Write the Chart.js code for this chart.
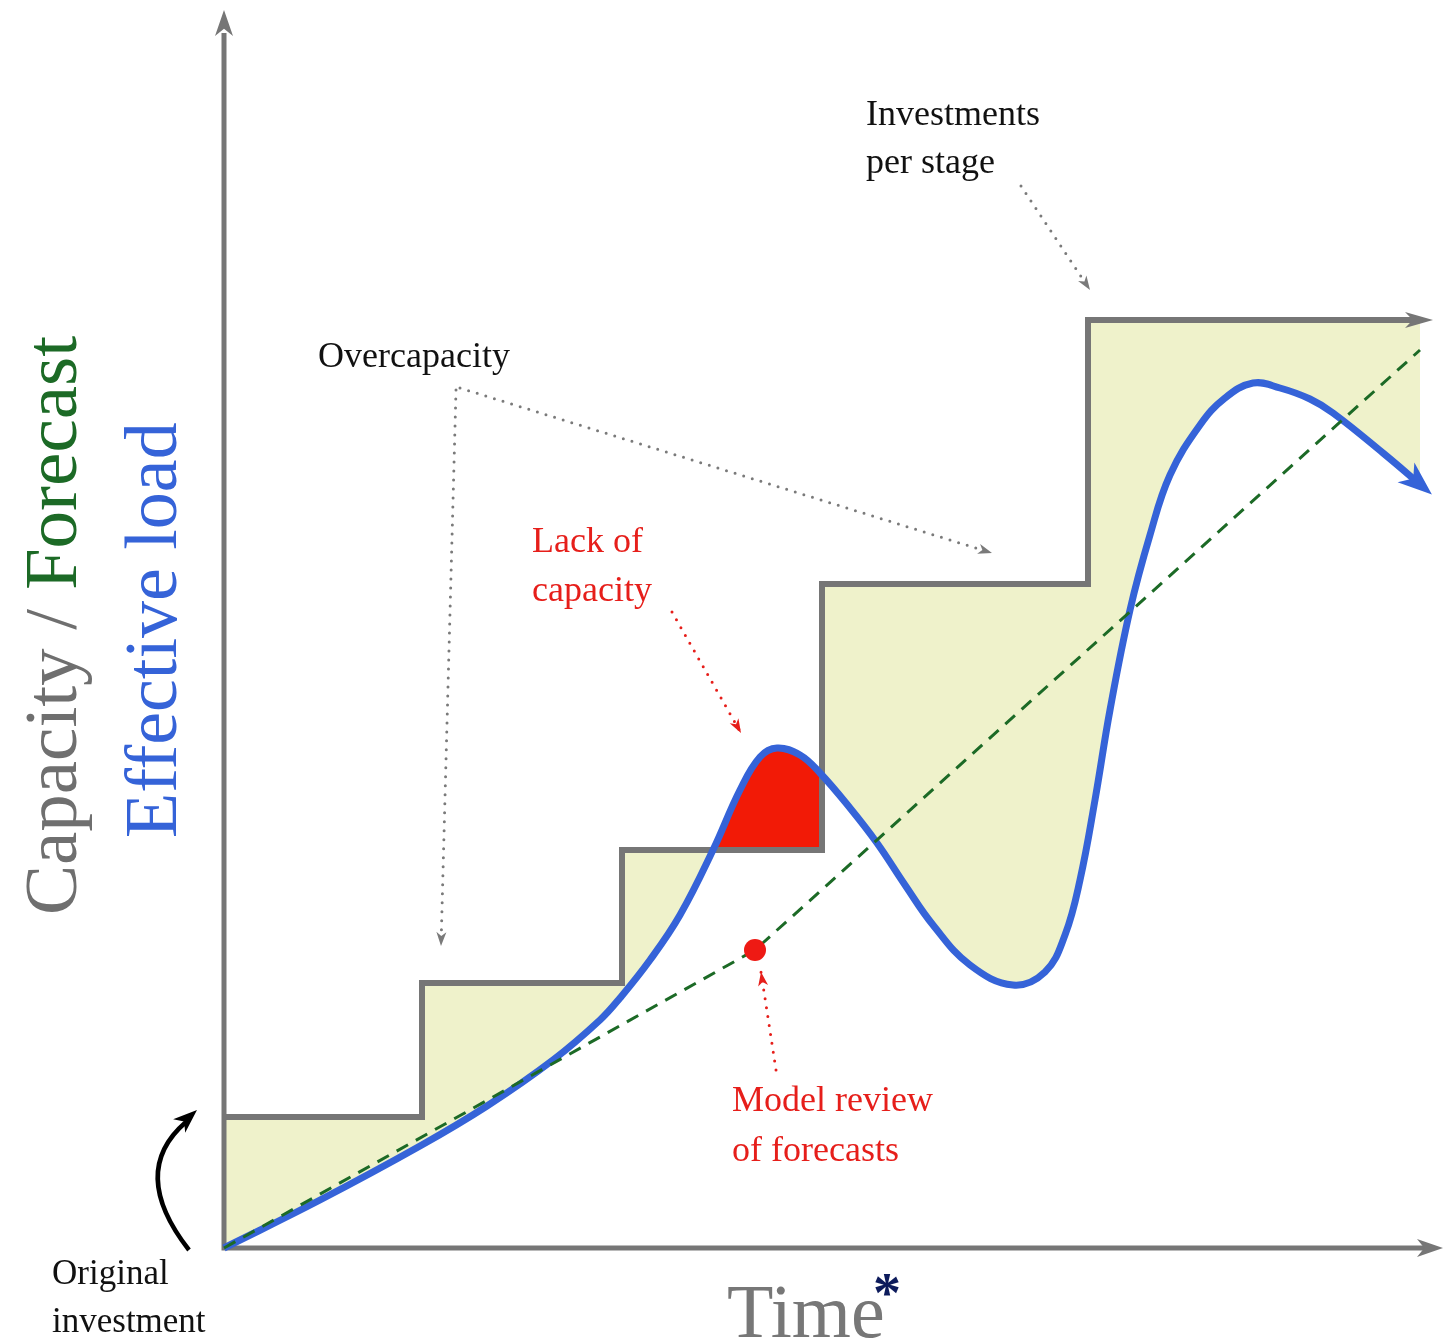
<!DOCTYPE html>
<html><head><meta charset="utf-8">
<script src="https://cdn.jsdelivr.net/npm/chart.js@4/dist/chart.umd.min.js"></script>
<style>html,body{margin:0;padding:0;background:#fff;overflow:hidden}canvas{display:block}</style>
</head><body><canvas id="c" width="1445" height="1342" style="width:1445px;height:1342px"></canvas>
<script>
// ---- data ----
const capacityTime  = [0, 1.98, 3.98, 5.98, 8.64, 11.96];
const capacityLevel = [1.31, 2.65, 3.98, 6.64, 9.28, 9.28];

const loadTime  = [0, 0.96, 1.96, 2.63, 3.29, 3.76, 3.96, 4.26, 4.56, 4.89, 5.16, 5.36, 5.53, 5.76, 5.96, 6.26, 6.53, 6.81, 7.09, 7.46, 7.89, 8.21, 8.41, 8.56, 8.71, 8.86, 9.06, 9.26, 9.46, 9.76, 10.01, 10.29, 10.56, 10.86, 11.09, 11.59, 11.98];
const loadValue = [0, 0.48, 1.02, 1.42, 1.88, 2.28, 2.50, 2.88, 3.33, 3.98, 4.58, 4.91, 5.00, 4.93, 4.75, 4.40, 4.05, 3.63, 3.23, 2.83, 2.63, 2.76, 3.13, 3.68, 4.48, 5.38, 6.38, 7.13, 7.73, 8.23, 8.50, 8.65, 8.60, 8.49, 8.35, 7.95, 7.62];

const forecastTime  = [0, 5.31, 11.96];
const forecastValue = [0, 2.98, 8.98];

const reviewTime  = [5.31];
const reviewValue = [2.98];

const xTitle = 'Time';
const yTitleA = ['Capacity', ' / ', 'Forecast'];
const yTitleB = 'Effective load';

// ---- helpers ----
const zip = (xs, ys) => xs.map((x, i) => ({x, y: ys[i]}));
const GRAY = '#767676', BLUE = '#3563d8', GREEN = '#1c6a26', RED = '#e61e1a', FILL = '#eff2cb', REDFILL = '#f21a06';
const SERIF = '"Liberation Serif", "Times New Roman", serif';

function arrowHead(ctx, tx, ty, ang, len, hw, color) {
  const c = Math.cos(ang), s = Math.sin(ang);
  const bx = tx - c * len, by = ty - s * len;
  const nx = tx - c * len * 0.72, ny = ty - s * len * 0.72;
  ctx.save();
  ctx.fillStyle = color;
  ctx.beginPath();
  ctx.moveTo(tx, ty);
  ctx.lineTo(bx - s * hw, by + c * hw);
  ctx.lineTo(nx, ny);
  ctx.lineTo(bx + s * hw, by - c * hw);
  ctx.closePath();
  ctx.fill();
  ctx.restore();
}
function dotted(ctx, pts, color, head) {
  ctx.save();
  ctx.strokeStyle = color; ctx.lineWidth = 3; ctx.lineCap = 'round';
  ctx.setLineDash([0, 9]);
  ctx.beginPath();
  ctx.moveTo(pts[0][0], pts[0][1]);
  for (let i = 1; i < pts.length; i++) ctx.lineTo(pts[i][0], pts[i][1]);
  ctx.stroke();
  ctx.restore();
  if (head) {
    const a = pts[pts.length - 2], b = pts[pts.length - 1];
    arrowHead(ctx, b[0], b[1], Math.atan2(b[1] - a[1], b[0] - a[0]), 14, 5, color);
  }
}

const decor = {
  id: 'decor',
  beforeDatasetsDraw(chart) {
    const ctx = chart.ctx, a = chart.chartArea;
    ctx.save();
    ctx.strokeStyle = GRAY; ctx.lineWidth = 5; ctx.lineCap = 'butt';
    ctx.beginPath();
    ctx.moveTo(a.left, a.bottom + 2.5); ctx.lineTo(a.left, a.top + 18);
    ctx.moveTo(a.left - 2.5, a.bottom); ctx.lineTo(a.right - 20, a.bottom);
    ctx.stroke();
    ctx.restore();
    arrowHead(ctx, a.left, a.top - 5, -Math.PI / 2, 26, 9, GRAY);
    arrowHead(ctx, a.right - 2, a.bottom, 0, 26, 9, GRAY);
  },
  afterDatasetsDraw(chart) {
    const ctx = chart.ctx, xs = chart.scales.x, ys = chart.scales.y;
    // arrow at end of capacity line
    const cx = xs.getPixelForValue(capacityTime[capacityTime.length - 1]);
    const cy = ys.getPixelForValue(capacityLevel[capacityLevel.length - 1]);
    arrowHead(ctx, cx + 13, cy, 0, 28, 8, GRAY);
    // arrow at end of load curve
    const n = loadTime.length;
    const px1 = xs.getPixelForValue(loadTime[n - 2]), py1 = ys.getPixelForValue(loadValue[n - 2]);
    const px2 = xs.getPixelForValue(loadTime[n - 1]), py2 = ys.getPixelForValue(loadValue[n - 1]);
    const ang = Math.atan2(py2 - py1, px2 - px1);
    arrowHead(ctx, px2 + Math.cos(ang) * 13, py2 + Math.sin(ang) * 13, ang, 34, 13, BLUE);

    // annotations
    ctx.save();
    ctx.textBaseline = 'alphabetic'; ctx.textAlign = 'left';
    ctx.font = '36px ' + SERIF;
    ctx.fillStyle = '#111';
    ctx.fillText('Investments', 866, 125);
    ctx.fillText('per stage', 866, 173);
    ctx.fillText('Overcapacity', 318, 367);
    ctx.font = '35px ' + SERIF;
    ctx.fillText('Original', 52, 1284);
    ctx.fillText('investment', 52, 1332);
    ctx.fillStyle = RED;
    ctx.font = '36px ' + SERIF;
    ctx.fillText('Lack of', 532, 552);
    ctx.fillText('capacity', 532, 601);
    ctx.fillText('Model review', 732, 1111);
    ctx.fillText('of forecasts', 732, 1161);
    // x title
    ctx.fillStyle = '#777';
    ctx.font = '76px ' + SERIF;
    ctx.fillText(xTitle, 727, 1337);
    ctx.fillStyle = '#0d1b5c';
    ctx.font = 'bold 56px ' + SERIF;
    ctx.fillText('*', 873, 1312);
    // y titles (rotated)
    ctx.translate(76, 915);
    ctx.rotate(-Math.PI / 2);
    ctx.font = '75px ' + SERIF;
    let x = 0;
    const cols = ['#6f6f6f', '#6f6f6f', GREEN];
    yTitleA.forEach((t, i) => { ctx.fillStyle = cols[i]; ctx.fillText(t, x, 0); x += ctx.measureText(t).width; });
    ctx.fillStyle = BLUE;
    ctx.font = '74px ' + SERIF;
    ctx.fillText(yTitleB, 77, 100);
    ctx.restore();

    // dotted pointer arrows
    dotted(ctx, [[456, 390], [441, 946]], '#7a7a7a', true);
    dotted(ctx, [[460, 388], [992, 553]], '#7a7a7a', true);
    dotted(ctx, [[1021, 186], [1090, 290]], '#7a7a7a', true);
    dotted(ctx, [[672, 612], [741, 733]], RED, true);
    dotted(ctx, [[776, 1070], [761, 972]], RED, true);

    // original investment curved arrow
    ctx.save();
    ctx.strokeStyle = '#000'; ctx.lineWidth = 4.5; ctx.lineCap = 'butt';
    ctx.beginPath();
    ctx.moveTo(189, 1250);
    ctx.quadraticCurveTo(128, 1172, 186, 1122);
    ctx.stroke();
    ctx.restore();
    arrowHead(ctx, 197, 1110, Math.atan2(1110 - 1172, 197 - 128), 24, 9, '#000');
  }
};

new Chart(document.getElementById('c'), {
  type: 'line',
  data: {
    datasets: [
      { label: 'Capacity', data: zip(capacityTime, capacityLevel), stepped: true,
        borderColor: GRAY, borderWidth: 6, pointRadius: 0, order: 4,
        fill: { target: 1, above: FILL, below: REDFILL }, clip: false, borderJoinStyle: 'miter' },
      { label: 'Effective load', data: zip(loadTime, loadValue), tension: 0.4,
        borderColor: BLUE, borderWidth: 7, pointRadius: 0, order: 3, fill: false, clip: false },
      { label: 'Forecast', data: zip(forecastTime, forecastValue), borderColor: GREEN, borderWidth: 3,
        borderDash: [13, 9], pointRadius: 0, order: 2, fill: false, clip: false },
      { label: 'Model review', data: zip(reviewTime, reviewValue), showLine: false, pointRadius: 11,
        pointBackgroundColor: '#ee1a14', pointBorderWidth: 0, borderColor: '#ee1a14', order: 1, fill: false, clip: false }
    ]
  },
  options: {
    responsive: false, maintainAspectRatio: false, animation: false, devicePixelRatio: 1,
    layout: { autoPadding: false, padding: { left: 224, top: 15, right: 0, bottom: 94 } },
    scales: {
      x: { type: 'linear', min: 0, max: 12.21, display: false },
      y: { type: 'linear', min: 0, max: 12.33, display: false }
    },
    plugins: { legend: { display: false }, tooltip: { enabled: false }, filler: { drawTime: 'beforeDatasetsDraw' } },
    events: []
  },
  plugins: [decor]
});
</script>
</body></html>
